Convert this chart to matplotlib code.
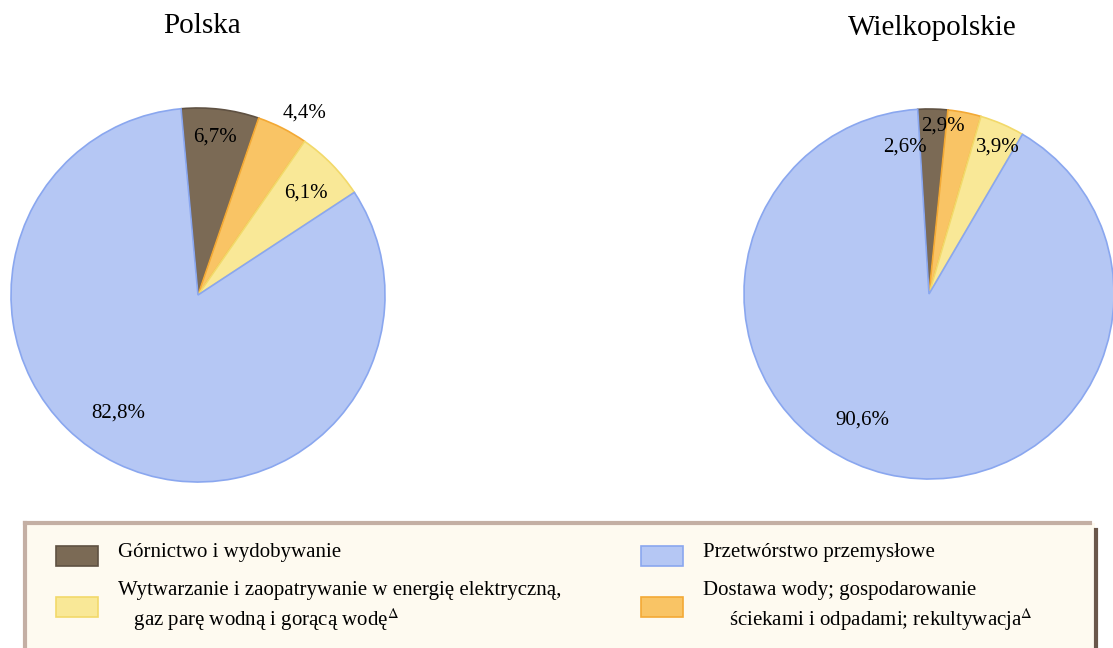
import matplotlib.pyplot as plt
from matplotlib.patches import Rectangle

plt.rcParams['font.family'] = ['Liberation Serif', 'DejaVu Serif']
plt.rcParams['mathtext.fontset'] = 'stix'

#### Data ####
sections = ["Górnictwo i wydobywanie",
            "Dostawa wody; gospodarowanie\n     ściekami i odpadami; rekultywacja$^{\\Delta}$",
            "Wytwarzanie i zaopatrywanie w energię elektryczną,\n   gaz parę wodną i gorącą wodę$^{\\Delta}$",
            "Przetwórstwo przemysłowe"]
polska = [6.7, 4.4, 6.1, 82.8]
wielkopolskie = [2.6, 2.9, 3.9, 90.6]
titles = ["Polska", "Wielkopolskie"]

#### Style ####
fills = ["#7b6a55", "#f9c465", "#f9e897", "#b5c7f4"]
edges = ["#5f5142", "#f3a935", "#f2d96a", "#8aa7ef"]

W, H = 1113, 648
fig = plt.figure(figsize=(W / 100, H / 100), dpi=100)


def pie_axes(cx, cy, r):
    ax = fig.add_axes([(cx - r) / W, (H - cy - r) / H, 2 * r / W, 2 * r / H])
    return ax


def draw_pie(ax, values, start, label_pos, title, title_dx):
    wedges, _ = ax.pie(values, colors=fills, startangle=start, counterclock=False,
                       radius=1, wedgeprops=dict(linewidth=1.2))
    # pie() resets the limits, so fix them afterwards
    ax.set_xlim(-1, 1); ax.set_ylim(-1, 1)
    ax.set_aspect('equal'); ax.axis('off')
    for w, ec in zip(wedges, edges):
        w.set_edgecolor(ec)
        w.set_clip_on(False)
    for v, (x, y) in zip(values, label_pos):
        ax.text(x, y, f"{v:.1f}%".replace(".", ","), ha='center', va='center',
                fontsize=15, color='black')
    ax.text(title_dx, 1.44, title, ha='center', va='center', fontsize=21,
            clip_on=False)


#### Pies ####
ax1 = pie_axes(198, 295, 187)
draw_pie(ax1, polska, 95.2,
         [(0.091, 0.845), (0.572, 0.973), (0.578, 0.545), (-0.428, -0.631)],
         titles[0], 0.02)

ax2 = pie_axes(929, 294, 185)
draw_pie(ax2, wielkopolskie, 93.5,
         [(-0.130, 0.795), (0.076, 0.908), (0.373, 0.795), (-0.362, -0.681)],
         titles[1], 0.02)

#### Legend box (pixel coordinates) ####
lax = fig.add_axes([0, 0, 1, 1])
lax.set_xlim(0, W); lax.set_ylim(H, 0); lax.axis('off')
lax.set_zorder(-1)
lax.add_patch(Rectangle((25, 523), 1070, 130, facecolor="#fefaf0", edgecolor='none'))
lax.plot([25, 1090], [523, 523], color="#c4afa4", lw=3)
lax.plot([25, 25], [523, 648], color="#c4afa4", lw=3)
lax.plot([1096, 1096], [530, 648], color="#6a574b", lw=3)

lax2 = fig.add_axes([0, 0, 1, 1])
lax2.set_xlim(0, W); lax2.set_ylim(H, 0); lax2.axis('off')
slots = [(56, 546, 118, 553, 'center'),     # Górnictwo
         (641, 597, 703, 581, 'top'),       # Dostawa wody
         (56, 597, 118, 581, 'top'),        # Wytwarzanie
         (641, 546, 703, 553, 'center')]    # Przetwórstwo
for lab, fc, ec, (px, py, tx, ty, va) in zip(sections, fills, edges, slots):
    lax2.add_patch(Rectangle((px, py), 42, 20, facecolor=fc, edgecolor=ec, lw=1.2))
    lax2.text(tx, ty, lab, ha='left', va=va, fontsize=15, linespacing=1.3)

fig.savefig("out.png", dpi=100)
